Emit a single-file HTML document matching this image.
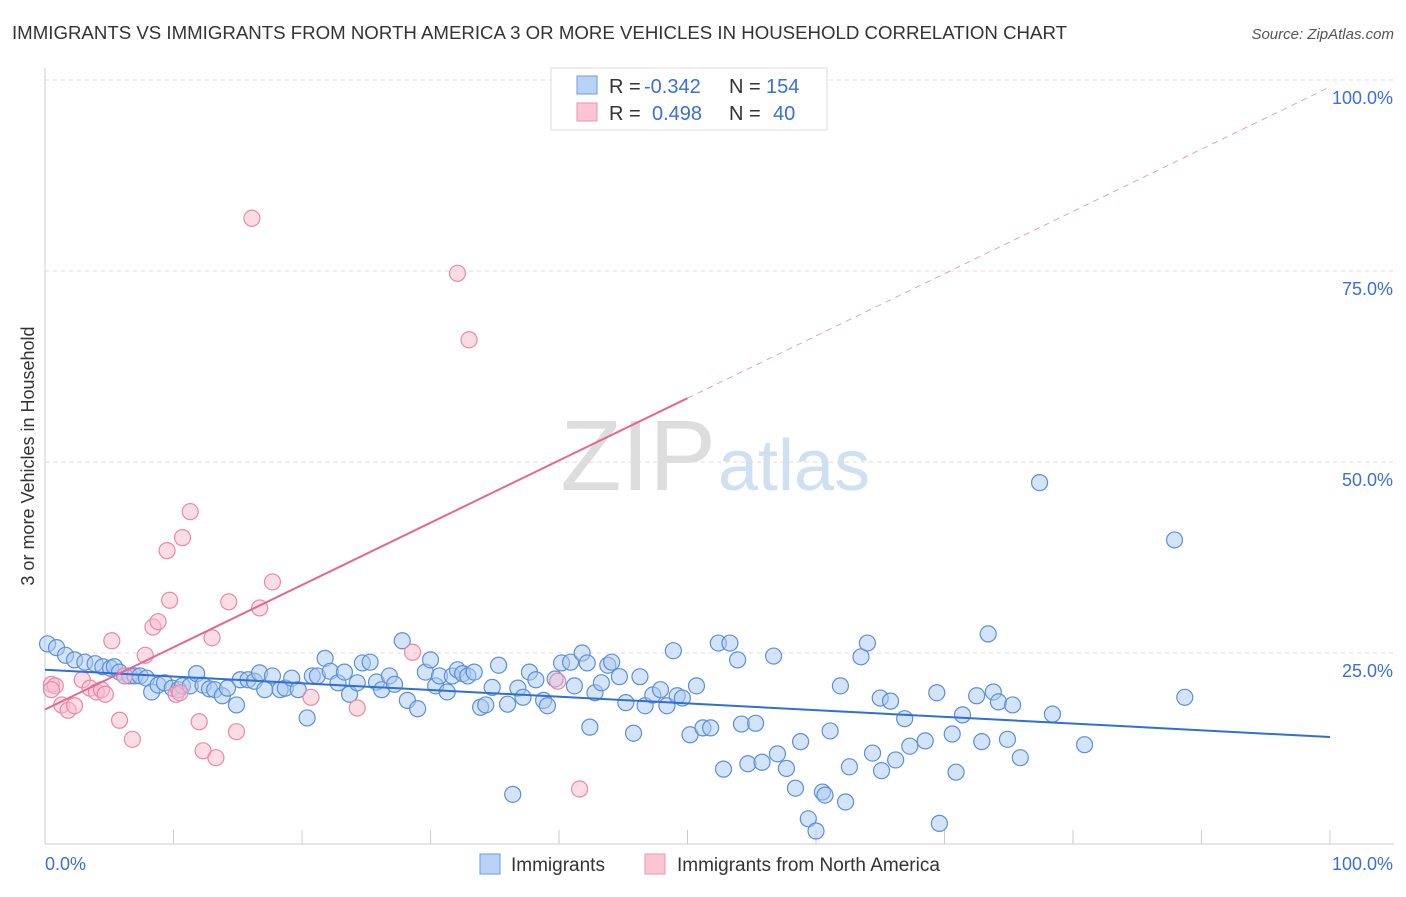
<!DOCTYPE html>
<html><head><meta charset="utf-8"><style>
body{margin:0;background:#fff;font-family:"Liberation Sans",sans-serif;}
svg text{font-family:"Liberation Sans",sans-serif;}
</style></head><body>
<svg id="chart" width="1406" height="892" xmlns="http://www.w3.org/2000/svg">
<text x="12" y="39" font-size="18" fill="#333" textLength="1055" lengthAdjust="spacingAndGlyphs">IMMIGRANTS VS IMMIGRANTS FROM NORTH AMERICA 3 OR MORE VEHICLES IN HOUSEHOLD CORRELATION CHART</text>
<text x="1394" y="39" font-size="15" fill="#555" font-style="italic" text-anchor="end">Source: ZipAtlas.com</text>
<text x="34" y="456" font-size="18" fill="#333" text-anchor="middle" transform="rotate(-90 34 456)">3 or more Vehicles in Household</text>
<text x="716" y="490" font-size="100" fill="#ddd" text-anchor="end" font-family="Liberation Serif">ZIP</text>
<text x="718" y="490" font-size="72" fill="#cfe0f3">atlas</text>
<g id="grid"></g><g id="axes"></g><g id="pts"></g><g id="lines"></g>
<g>
<rect x="551" y="68" width="276" height="62" fill="#fff" stroke="#ddd"/>
<rect x="577" y="76" width="20" height="18" fill="#b8d3f5" stroke="#6d9be0"/>
<rect x="577" y="103" width="20" height="18" fill="#fbc5d4" stroke="#ec94b0"/>
<text y="93" font-size="20" fill="#333"><tspan x="609">R =</tspan><tspan x="644" fill="#3a6fd8">-0.342</tspan><tspan x="729">N =</tspan><tspan x="766" fill="#3a6fd8">154</tspan></text>
<text y="120" font-size="20" fill="#333"><tspan x="609">R =</tspan><tspan x="652" fill="#3a6fd8">0.498</tspan><tspan x="729">N =</tspan><tspan x="773" fill="#3a6fd8">40</tspan></text>
</g>
<g>
<rect x="480" y="854" width="20" height="20" fill="#b8d3f5" stroke="#6d9be0"/>
<text x="511" y="871" font-size="19" fill="#333">Immigrants</text>
<rect x="645" y="854" width="20" height="20" fill="#fbc5d4" stroke="#ec94b0"/>
<text x="677" y="871" font-size="19" fill="#333">Immigrants from North America</text>
</g>
</svg>
<script>
const blueX=[0.2,0.9,1.6,2.3,3.1,3.9,4.5,5.1,5.4,5.8,6.2,6.6,7.0,7.4,7.9,8.3,8.8,9.3,9.9,10.4,10.7,11.3,11.8,12.3,12.8,13.2,13.8,14.2,14.9,15.2,15.8,16.3,16.7,17.1,17.7,18.3,18.7,19.2,19.7,20.4,20.8,21.2,21.8,22.2,22.8,23.3,23.7,24.3,24.7,25.3,25.8,26.2,26.8,27.2,27.8,28.2,29.0,29.6,30.0,30.4,30.7,31.3,31.7,32.1,32.5,32.9,33.4,33.9,34.3,34.8,35.3,36.0,36.4,36.8,37.2,37.7,38.2,38.8,39.1,39.7,40.2,40.9,41.2,41.8,42.2,42.4,42.8,43.3,43.8,44.1,44.7,45.2,45.8,46.3,46.7,47.3,47.9,48.4,48.9,49.2,49.6,50.2,50.7,51.2,51.8,52.4,52.8,53.3,53.9,54.2,54.7,55.3,55.8,56.7,57.0,57.7,58.4,58.8,59.4,60.0,60.5,60.7,61.1,61.9,62.3,62.6,63.5,64.0,64.4,65.0,65.1,65.8,66.2,66.9,67.3,68.5,69.4,69.6,70.6,70.9,71.4,72.5,72.9,73.4,73.8,74.2,74.9,75.3,75.9,77.4,78.4,80.9,87.9,88.7];
const blueY=[26.2,25.7,24.7,24.1,23.8,23.6,23.2,23.0,23.2,22.5,22.0,22.0,22.0,22.0,21.7,19.9,20.8,21.1,20.4,20.2,20.7,20.7,22.3,20.8,20.3,20.2,19.4,20.4,18.2,21.5,21.5,21.3,22.4,20.2,22.0,20.2,20.4,21.7,20.2,16.5,22.0,22.0,24.3,22.6,21.1,22.5,19.6,21.1,23.7,23.8,21.2,20.2,22.0,20.9,26.6,18.8,17.7,22.5,24.1,20.7,22.0,19.9,22.0,22.8,22.3,22.0,22.5,17.9,18.2,20.5,23.4,18.3,6.5,20.4,19.2,22.5,21.5,18.8,18.1,21.6,23.7,23.8,20.7,25.0,23.7,15.3,19.8,21.1,23.4,23.8,21.9,18.5,14.5,21.9,18.1,19.5,20.2,18.1,25.3,19.4,19.1,14.3,20.7,15.2,15.2,26.3,9.8,26.3,24.1,15.7,10.5,15.8,10.7,24.6,11.8,9.9,7.3,13.4,3.3,1.7,6.8,6.4,14.8,20.7,5.5,10.1,24.5,26.3,11.9,19.1,9.6,18.7,11.0,16.4,12.8,13.5,19.8,2.7,14.4,9.4,16.9,19.4,13.4,27.5,19.9,18.6,13.7,18.2,11.3,47.3,17.0,13.0,39.8,19.2];
const pinkX=[0.5,0.8,1.3,1.8,2.3,2.9,3.5,4.0,4.4,4.7,5.2,5.8,6.2,6.8,7.8,8.4,8.8,9.5,9.7,10.2,10.5,10.7,11.3,12.0,12.3,13.0,13.3,14.3,14.9,16.1,16.7,17.7,20.7,24.3,28.6,32.1,33.0,39.9,41.6,0.5];
const pinkY=[20.9,20.7,18.2,17.5,18.1,21.5,20.4,19.9,20.2,19.6,26.6,16.2,22.0,13.7,24.7,28.4,29.1,38.4,31.9,19.6,19.8,40.1,43.5,16.0,12.2,27.0,11.3,31.7,14.7,81.9,30.9,34.3,19.2,17.8,25.1,74.7,66.0,21.3,7.2,20.2];
// trend lines: [intercept %, slope per %]
const blueTrend=[22.8,-0.088];
const pinkTrend=[17.6,0.815];
const xTickLabels=["0.0%","100.0%"];
const yTickVals=[25,50,75,100];
const yTickLabels=["25.0%","50.0%","75.0%","100.0%"];

const X0=45,X1=1330,Y0=844,Y100=80;
const sx=v=>X0+(X1-X0)*v/100, sy=v=>Y0-(Y0-Y100)*v/100;
const NS="http://www.w3.org/2000/svg";
function mk(t,a,p){const e=document.createElementNS(NS,t);for(const k in a)e.setAttribute(k,a[k]);p.appendChild(e);return e;}
const grid=document.getElementById('grid'),axes=document.getElementById('axes'),pts=document.getElementById('pts'),lines=document.getElementById('lines');
yTickVals.forEach((v,i)=>{
 const l=mk('line',{x1:X0,x2:1394,y1:sy(v),y2:sy(v),stroke:'#ddd','stroke-dasharray':'4,4'},grid);
 
 
 const t=mk('text',{x:1393,y:sy(v)+24,'font-size':18,fill:'#3a6fd8','text-anchor':'end'},axes);t.textContent=yTickLabels[i];
 
 
});
const ax=mk('line',{x1:X0,x2:1394,y1:Y0,y2:Y0,stroke:'#ccc'},axes);


const ay=mk('line',{x1:X0,x2:X0,y1:68,y2:Y0,stroke:'#ccc'},axes);


for(let i=0;i<=10;i++){const t=mk('line',{x1:sx(i*10),x2:sx(i*10),y1:Y0-14,y2:Y0,stroke:'#ccc'},axes);
 
 }
const xl0=mk('text',{x:45,y:870,'font-size':18,fill:'#3a6fd8'},axes);xl0.textContent=xTickLabels[0];


const xl1=mk('text',{x:1393,y:870,'font-size':18,fill:'#3a6fd8','text-anchor':'end'},axes);xl1.textContent=xTickLabels[1];


function dots(xs,ys,fill,stroke,name){xs.forEach((x,i)=>{const c=mk('circle',{cx:sx(x),cy:sy(ys[i]),r:8,fill:fill,'fill-opacity':0.5,stroke:stroke,'stroke-width':1.2},pts);
 
 });}
dots(blueX,blueY,'#a9c9f2','#5b8fd8','immigrants-point');
dots(pinkX,pinkY,'#f9bccd','#e889a8','north-america-point');
const [ba,bb]=blueTrend;
const bl=mk('line',{x1:sx(0),y1:sy(ba),x2:sx(100),y2:sy(ba+bb*100),stroke:'#2f6fd6','stroke-width':2},lines);


const [pa,pb]=pinkTrend;
const pl=mk('line',{x1:sx(0),y1:sy(pa),x2:sx(50),y2:sy(pa+pb*50),stroke:'#e8658f','stroke-width':2},lines);


const pd=mk('line',{x1:sx(50),y1:sy(pa+pb*50),x2:sx(100),y2:sy(pa+pb*100),stroke:'#e8a0b8','stroke-width':1,'stroke-dasharray':'6,5'},lines);


</script>
</body></html>
